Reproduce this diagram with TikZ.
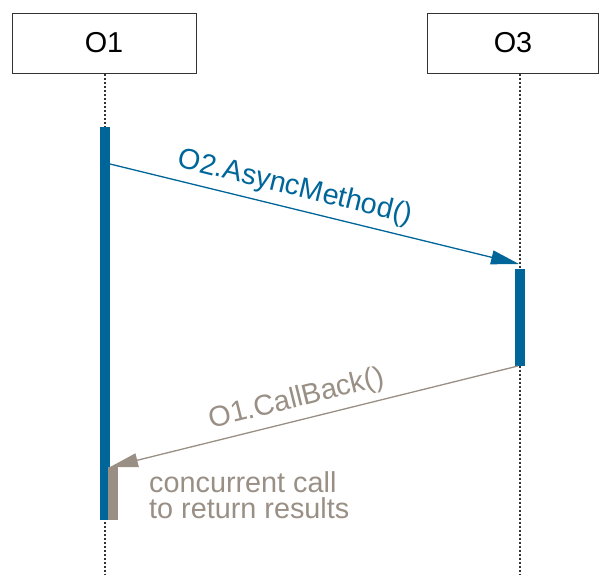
\documentclass[tikz,border=0pt]{standalone}
\usepackage{fontspec}
\setmainfont{Liberation Sans}
\usetikzlibrary{arrows.meta}
\definecolor{callblue}{HTML}{00669A}
\definecolor{backgrey}{HTML}{998F84}
\definecolor{lineink}{HTML}{333333}
\tikzset{
  objbox/.style={draw=lineink, line width=1pt, fill=white, inner sep=0pt,
    font=\fontsize{28.8}{28}\selectfont},
  lifeline/.style={draw=lineink, line width=1.5pt, dash pattern=on 2.5pt off 1.5pt},
  msg/.style={line width=1.3pt, -{Triangle[length=28pt,width=14pt]}},
  lbl/.style={font=\fontsize{28.8}{26.5}\selectfont, inner sep=0pt}
}
\begin{document}
\begin{tikzpicture}[x=1pt,y=-1pt]
\useasboundingbox (0,0) rectangle (600,574);

% object heads
\node[objbox, minimum width=184pt, minimum height=60pt] (o1) at (104,43) {O1};
\node[objbox, minimum width=171pt, minimum height=60pt] (o3) at (513,43) {O3};

% lifelines
\coordinate (o1end) at (105,574);
\coordinate (o3end) at (520,574);
\draw[lifeline] (o1.south -| o1end) -- (o1end);
\draw[lifeline] (o3.south -| o3end) -- (o3end);

% activation bars
\fill[callblue] (100,127) rectangle (110,520);
\fill[callblue] (515,269) rectangle (525,366);
\fill[backgrey] (108,467) rectangle (118,520);

% asynchronous call
\coordinate (m1s) at (110,164);
\coordinate (m1e) at (519,264);
\draw[msg, callblue, fill=callblue] (m1s) -- (m1e);
\path (m1s) -- (m1e) node[lbl, pos=0.44, sloped, above=7pt, text=callblue] (l1) {O2.AsyncMethod()};

% callback
\coordinate (m2s) at (518,366);
\coordinate (m2e) at (110,467);
\draw[msg, backgrey, fill=backgrey] (m2s) -- (m2e);
\path (m2e) -- (m2s) node[lbl, pos=0.47, sloped, above=7pt, text=backgrey] (l2) {O1.CallBack()};

% note
\node[lbl, text=backgrey, align=left, anchor=north west] (note) at (149,471)
  {concurrent call\\to return results};
\end{tikzpicture}
\end{document}
